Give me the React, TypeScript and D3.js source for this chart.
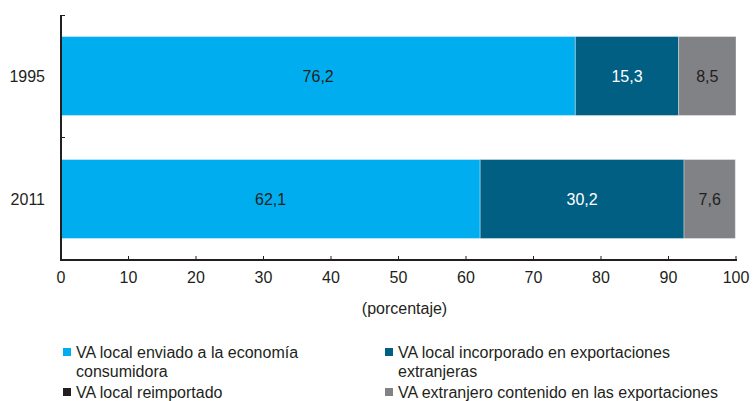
import React from "react";
import * as d3 from "d3";

const years = ["1995", "2011"];
const seriesNames = [
  "VA local enviado a la economía consumidora",
  "VA local incorporado en exportaciones extranjeras",
  "VA local reimportado",
  "VA extranjero contenido en las exportaciones",
];
const enviado = [76.2, 62.1];
const incorporado = [15.3, 30.2];
const reimportado = [0, 0];
const extranjero = [8.5, 7.6];
const xTicks = [0, 10, 20, 30, 40, 50, 60, 70, 80, 90, 100];

const colors = ["#00AEEF", "#005F83", "#231F20", "#818285"];
const labelColors = ["#231F20", "#FFFFFF", "#FFFFFF", "#231F20"];
const FONT = "'Liberation Sans', Arial, Helvetica, sans-serif";

export default function App() {
  const W = 753, H = 401;
  const x = d3.scaleLinear().domain([0, 100]).range([61, 736]);
  const y = d3.scaleBand().domain(years).range([15, 260]).paddingInner(0.358).paddingOuter(0.175);
  const table = years.map((yr, i) => ({
    year: yr,
    s0: enviado[i],
    s1: incorporado[i],
    s2: reimportado[i],
    s3: extranjero[i],
  }));
  const stack = d3.stack<any>().keys(["s0", "s1", "s2", "s3"])(table);
  const axisY = 260;
  const textColor = "#231F20";
  const fs = 16;

  const legend = [
    { i: 0, lx: 63, ly: 352, lines: ["VA local enviado a la economía", "consumidora"] },
    { i: 1, lx: 385, ly: 352, lines: ["VA local incorporado en exportaciones", "extranjeras"] },
    { i: 2, lx: 63, ly: 392, lines: ["VA local reimportado"] },
    { i: 3, lx: 385, ly: 392, lines: ["VA extranjero contenido en las exportaciones"] },
  ];

  return (
    <svg width={W} height={H} style={{ position: "absolute", left: 0, top: 0 }} fontFamily={FONT}>
      <rect width={W} height={H} fill="#fff" />
      {stack.map((layer, si) =>
        layer.map((d, i) => {
          const w = x(d[1]) - x(d[0]);
          if (w <= 0) return null;
          const val = d[1] - d[0];
          return (
            <g key={`${si}-${i}`}>
              <rect
                x={x(d[0])}
                y={y(years[i])!}
                width={w}
                height={y.bandwidth()}
                fill={colors[si]}
                stroke="#ffffff"
                strokeOpacity={0.35}
                strokeWidth={1}
              />
              <text
                x={x(d[0]) + w / 2}
                y={y(years[i])! + y.bandwidth() / 2}
                dy="0.35em"
                textAnchor="middle"
                fontSize={fs}
                fill={labelColors[si]}
              >
                {val.toFixed(1).replace(".", ",")}
              </text>
            </g>
          );
        })
      )}
      {/* Y axis */}
      <line x1={61} x2={61} y1={15} y2={axisY + 1} stroke={textColor} strokeWidth={2} />
      <line x1={61} x2={65} y1={15.5} y2={15.5} stroke={textColor} strokeWidth={1} />
      <line x1={61} x2={65} y1={137.5} y2={137.5} stroke={textColor} strokeWidth={1} />
      {years.map((yr) => (
        <text
          key={yr}
          x={45}
          y={y(yr)! + y.bandwidth() / 2}
          dy="0.35em"
          textAnchor="end"
          fontSize={fs}
          fill={textColor}
        >
          {yr}
        </text>
      ))}
      {/* X axis */}
      <line x1={60} x2={737} y1={axisY} y2={axisY} stroke={textColor} strokeWidth={2} />
      {xTicks.map((t) => (
        <g key={t}>
          <line x1={x(t)} x2={x(t)} y1={axisY} y2={axisY - 4} stroke={textColor} strokeWidth={1} />
          <text x={x(t)} y={axisY + 17} dy="0.35em" textAnchor="middle" fontSize={fs} fill={textColor}>
            {t}
          </text>
        </g>
      ))}
      <text x={x(50) + 6} y={308} dy="0.35em" textAnchor="middle" fontSize={fs} fill={textColor}>
        (porcentaje)
      </text>
      {/* Legend */}
      {legend.map((l) => (
        <g key={l.i}>
          <rect x={l.lx} y={l.ly - 4} width={8} height={8} fill={colors[l.i]} />
          <text x={l.lx + 13} y={l.ly} fontSize={fs} fill={textColor}>
            {l.lines.map((s, k) => (
              <tspan key={k} x={l.lx + 13} dy={k === 0 ? "0.35em" : 19}>
                {s}
              </tspan>
            ))}
          </text>
        </g>
      ))}
    </svg>
  );
}
